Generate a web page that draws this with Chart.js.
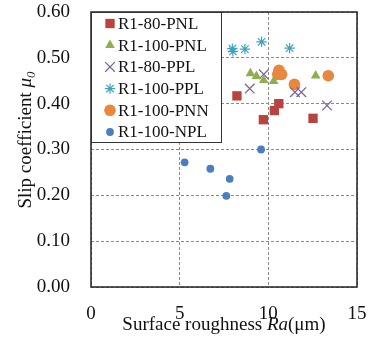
<!DOCTYPE html>
<html>
<head>
<meta charset="utf-8">
<script src="https://cdn.jsdelivr.net/npm/chart.js@4"></script>
<style>
  html, body { margin: 0; padding: 0; background: #fff; }
  #wrap { width: 369px; height: 342px; }
</style>
</head>
<body>
<div id="wrap"><canvas id="slipChart"></canvas></div>
<script>
const seriesNames = ['R1-80-PNL', 'R1-100-PNL', 'R1-80-PPL', 'R1-100-PPL', 'R1-100-PNN', 'R1-100-NPL'];

// Ra (um) and slip coefficient per series
const pnl80Ra  = [8.23, 9.72, 10.34, 10.59, 12.52];
const pnl80Mu  = [0.417, 0.365, 0.385, 0.400, 0.368];
const pnl100Ra = [8.99, 9.33, 9.74, 10.30, 12.67];
const pnl100Mu = [0.466, 0.460, 0.451, 0.449, 0.461];
const ppl80Ra  = [8.95, 9.74, 11.50, 11.86, 13.31];
const ppl80Mu  = [0.433, 0.464, 0.425, 0.425, 0.396];
const ppl100Ra = [7.97, 8.00, 8.68, 9.62, 11.20];
const ppl100Mu = [0.520, 0.514, 0.519, 0.535, 0.521];
const pnn100Ra = [10.60, 10.53, 10.75, 11.47, 13.38];
const pnn100Mu = [0.473, 0.464, 0.464, 0.442, 0.461];
const npl100Ra = [5.28, 6.73, 7.82, 7.63, 9.59];
const npl100Mu = [0.272, 0.258, 0.236, 0.199, 0.300];

const xTicks = [0, 5, 10, 15];
const yTicks = [0, 0.1, 0.2, 0.3, 0.4, 0.5, 0.6];

function pts(xs, ys) {
    return xs.map((x, i) => ({ x: x, y: ys[i] }));
}

const serif = "'Liberation Serif', 'Times New Roman', serif";

const datasets = [
    { label: seriesNames[0], data: pts(pnl80Ra, pnl80Mu), pointStyle: 'rect', pointRadius: 6.6,
      backgroundColor: '#B8433F', borderColor: '#B8433F', pointBorderWidth: 0 },
    { label: seriesNames[1], data: pts(pnl100Ra, pnl100Mu), pointStyle: 'triangle', pointRadius: 5.6,
      backgroundColor: '#8FAE4F', borderColor: '#8FAE4F', pointBorderWidth: 0 },
    { label: seriesNames[2], data: pts(ppl80Ra, ppl80Mu), pointStyle: 'crossRot', pointRadius: 6.8,
      backgroundColor: '#7A5E9E', borderColor: '#7A5E9E', pointBorderWidth: 1.2 },
    { label: seriesNames[3], data: pts(ppl100Ra, ppl100Mu), pointStyle: 'star', pointRadius: 5.2,
      backgroundColor: '#3FA4BE', borderColor: '#3FA4BE', pointBorderWidth: 1.2 },
    { label: seriesNames[4], data: pts(pnn100Ra, pnn100Mu), pointStyle: 'circle', pointRadius: 5.8,
      backgroundColor: '#E8873F', borderColor: '#E8873F', pointBorderWidth: 0 },
    { label: seriesNames[5], data: pts(npl100Ra, npl100Mu), pointStyle: 'circle', pointRadius: 3.9,
      backgroundColor: '#4A7EBF', borderColor: '#4A7EBF', pointBorderWidth: 0 }
];

// frame, legend box and axis titles drawn by hand
const decorPlugin = {
    id: 'decor',
    afterDatasetsDraw(chart) {
        const ctx = chart.ctx;
        const a = chart.chartArea;
        ctx.save();
        ctx.strokeStyle = '#222';
        ctx.lineWidth = 1.5;
        ctx.strokeRect(a.left, a.top, a.right - a.left, a.bottom - a.top);

        // legend
        const bx = a.left, by = a.top, bw = 130, bh = 130;
        ctx.fillStyle = '#fff';
        ctx.fillRect(bx, by, bw, bh);
        ctx.strokeStyle = '#333';
        ctx.lineWidth = 1;
        ctx.strokeRect(bx + 0.5, by + 0.5, bw, bh);
        ctx.font = '17px ' + serif;
        ctx.textBaseline = 'middle';
        ctx.textAlign = 'left';
        chart.data.datasets.forEach((ds, i) => {
            const y = by + 11.5 + i * 21.7;
            ctx.fillStyle = ds.backgroundColor;
            ctx.strokeStyle = ds.borderColor;
            ctx.lineWidth = ds.pointBorderWidth || 1;
            Chart.helpers.drawPoint(ctx, {
                pointStyle: ds.pointStyle,
                radius: ds.pointRadius,
                rotation: 0,
                borderWidth: ds.pointBorderWidth
            }, bx + 19, y);
            ctx.fillStyle = '#111';
            ctx.fillText(ds.label, bx + 27, y + 1);
        });

        // x title
        ctx.fillStyle = '#111';
        ctx.textBaseline = 'alphabetic';
        const f1 = '19px ' + serif, f2 = 'italic 19px ' + serif;
        const parts = [['Surface roughness ', f1], ['Ra', f2], ['(μm)', f1]];
        let total = 0;
        parts.forEach(p => { ctx.font = p[1]; total += ctx.measureText(p[0]).width; });
        let x = 224 - total / 2;
        parts.forEach(p => { ctx.font = p[1]; ctx.fillText(p[0], x, 330); x += ctx.measureText(p[0]).width; });

        // y title
        ctx.translate(31, 140);
        ctx.rotate(-Math.PI / 2);
        const g1 = '19px ' + serif, g2 = 'italic 19px ' + serif, g3 = 'italic 13px ' + serif;
        const yparts = [['Slip coefficient ', g1, 0], ['μ', g2, 0], ['0', g3, 4]];
        total = 0;
        yparts.forEach(p => { ctx.font = p[1]; total += ctx.measureText(p[0]).width; });
        x = -total / 2;
        yparts.forEach(p => { ctx.font = p[1]; ctx.fillText(p[0], x, p[2]); x += ctx.measureText(p[0]).width; });
        ctx.restore();
    }
};

new Chart(document.getElementById('slipChart').getContext('2d'), {
    type: 'scatter',
    data: { datasets: datasets },
    options: {
        responsive: true,
        maintainAspectRatio: false,
        animation: false,
        layout: { padding: { left: 0, right: 12, top: 12, bottom: 0 } },
        scales: {
            x: {
                type: 'linear',
                min: xTicks[0],
                max: xTicks[xTicks.length - 1],
                afterBuildTicks: (s) => { s.ticks = xTicks.map(v => ({ value: v })); },
                afterFit: (s) => { s.height = 55; s.paddingLeft = 0; s.paddingRight = 0; },
                grid: { color: '#8a8a8a', drawTicks: false },
                border: { display: false, dash: [3, 2] },
                ticks: { color: '#111', padding: 16, font: { family: serif, size: 19 } }
            },
            y: {
                min: yTicks[0],
                max: yTicks[yTicks.length - 1],
                afterBuildTicks: (s) => { s.ticks = yTicks.map(v => ({ value: v })); },
                afterFit: (s) => { s.width = 91; s.paddingTop = 0; s.paddingBottom = 0; },
                grid: { color: '#8a8a8a', drawTicks: false },
                border: { display: false, dash: [3, 2] },
                ticks: { color: '#111', padding: 21, font: { family: serif, size: 19 },
                         callback: (v) => v.toFixed(2) }
            }
        },
        plugins: {
            legend: { display: false },
            tooltip: { enabled: false }
        }
    },
    plugins: [decorPlugin]
});
</script>
</body>
</html>
